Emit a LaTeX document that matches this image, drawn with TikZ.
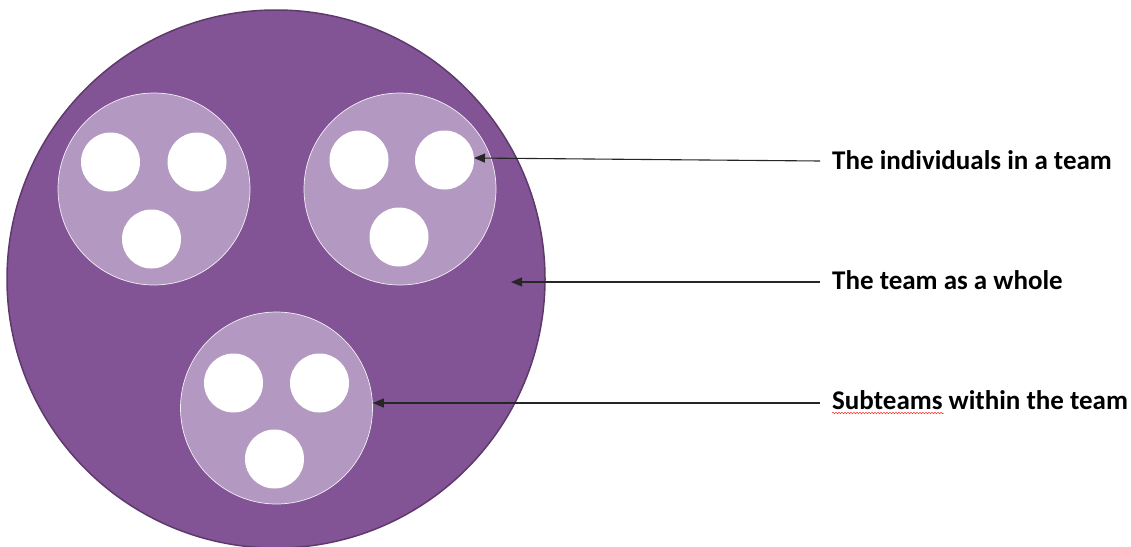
\documentclass[tikz,border=0pt]{standalone}
\usepackage{fontspec}
\setmainfont{Carlito}
\usetikzlibrary{arrows.meta,decorations.pathmorphing,calc}
\definecolor{teamfill}{HTML}{835495}
\definecolor{teamline}{HTML}{5E3A6C}
\definecolor{subfill}{HTML}{B398C1}
\tikzset{
  team/.style={circle, fill=teamfill, draw=teamline, line width=1.5pt, minimum size=538pt, inner sep=0pt},
  subteam/.style={circle, fill=subfill, draw=white!85!subfill, line width=0.7pt, minimum size=192pt, inner sep=0pt},
  person/.style={circle, fill=white, minimum size=59pt, inner sep=0pt},
  lbl/.style={anchor=base west, font=\fontsize{27}{32}\selectfont\bfseries, inner sep=0pt},
  pointer/.style={line width=1.1pt, draw=black!85, -{Triangle[length=11pt,width=9pt]}},
  squiggle/.style={draw=red!80, line width=0.5pt, decorate, decoration={snake, amplitude=0.7pt, segment length=3pt}}
}
\begin{document}
\begin{tikzpicture}[x=1pt,y=-1pt]
\useasboundingbox (0,0) rectangle (1131,546);
\node[team] (T) at (276,279) {};
% subteams
\node[subteam] (S1) at (154,189) {};
\node[subteam] (S2) at (400,189) {};
\node[subteam] (S3) at (276.5,408) {};
% individuals
\node[person] (S1a) at (110.5,162) {};
\node[person] (S1b) at (197,162) {};
\node[person] (S1c) at (151.5,239) {};
\node[person] (S2a) at (359,160) {};
\node[person] (S2b) at (444.5,160) {};
\node[person] (S2c) at (399,237) {};
\node[person] (S3a) at (233.5,383) {};
\node[person] (S3b) at (319.5,383) {};
\node[person] (S3c) at (274.5,459) {};
% labels
\node[lbl] (L1) at (832,169) {The individuals in a team};
\node[lbl] (L2) at (832,289) {The team as a whole};
\node[lbl] (L3) at (832,409) {Subteams within the team};
% arrows
\coordinate (A1) at (820,161);
\coordinate (A2) at (820,282);
\coordinate (A3) at (820,403);
\coordinate (P1) at (474,158);
\coordinate (P2) at (511,282);
\draw[pointer] (A1) -- (P1);
\draw[pointer] (A2) -- (P2);
\draw[pointer] (A3) -- (S3.east |- A3);
% spell-check squiggle
\coordinate (Q1) at (832,413);
\coordinate (Q2) at (944,413);
\draw[squiggle] (Q1) -- (Q2);
\end{tikzpicture}
\end{document}
